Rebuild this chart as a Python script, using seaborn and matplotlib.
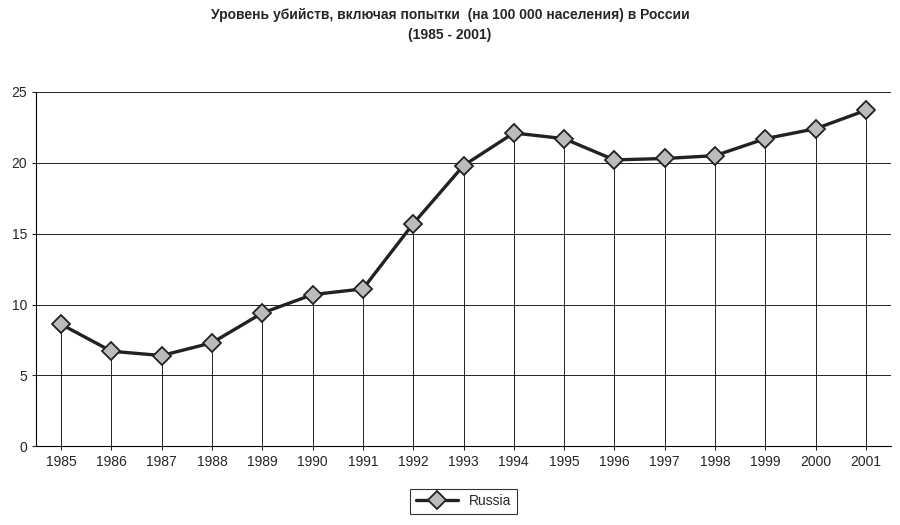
import numpy as np
import pandas as pd
import matplotlib
matplotlib.use("Agg")
import matplotlib.pyplot as plt
import seaborn as sns

years = ["1985", "1986", "1987", "1988", "1989", "1990", "1991", "1992", "1993",
         "1994", "1995", "1996", "1997", "1998", "1999", "2000", "2001"]
rates = [8.6, 6.7, 6.4, 7.3, 9.4, 10.7, 11.1, 15.7, 19.8,
         22.1, 21.7, 20.2, 20.3, 20.5, 21.7, 22.4, 23.7]

sns.set_style("white")
plt.rcParams['font.family'] = ['Liberation Sans', 'DejaVu Sans']

df = pd.DataFrame({"year": years, "rate": rates})
df["x"] = np.arange(len(years))

fig, ax = plt.subplots(figsize=(9, 5.25), dpi=100)
fig.subplots_adjust(left=0.04, right=0.99, top=0.825, bottom=0.15)

for y in [5, 10, 15, 20, 25]:
    ax.axhline(y, color="black", lw=0.6, zorder=0)
ax.vlines(df["x"], 0, df["rate"], color="black", lw=0.6, zorder=0)

sns.lineplot(data=df, x="x", y="rate", ax=ax, color="#222222", lw=2.4,
             marker="D", markersize=9, markerfacecolor="#bbbbbb",
             markeredgecolor="#222222", markeredgewidth=1.3, label="Russia")

ax.set_xlim(-0.5, len(years) - 0.5)
ax.set_ylim(0, 25)
ax.set_yticks([0, 5, 10, 15, 20, 25])
ax.set_xticks(df["x"])
ax.set_xticklabels(years)
ax.tick_params(labelsize=10, length=3, direction="out", left=True, bottom=True)
ax.set_xlabel("")
ax.set_ylabel("")
for s in ["top", "right"]:
    ax.spines[s].set_visible(False)
for s in ["left", "bottom"]:
    ax.spines[s].set_color("black")
    ax.spines[s].set_linewidth(0.8)

fig.suptitle("Уровень убийств, включая попытки  (на 100 000 населения) в России\n(1985 - 2001)",
             fontsize=10, fontweight="bold", y=0.985, linespacing=1.6)

leg = ax.legend(loc="upper center", bbox_to_anchor=(0.5, -0.1), frameon=True,
                fancybox=False, edgecolor="black", fontsize=10, handlelength=3)
leg.get_frame().set_linewidth(0.8)

fig.savefig("out.png", dpi=100)
